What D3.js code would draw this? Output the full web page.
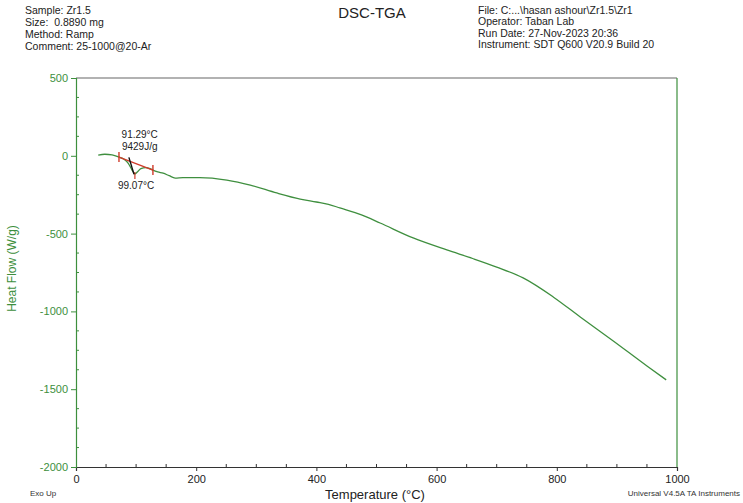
<!DOCTYPE html>
<html>
<head>
<meta charset="utf-8">
<script src="https://cdn.jsdelivr.net/npm/d3@7"></script>
<style>
  body { margin: 0; background: #fff; }
  svg { font-family: "Liberation Sans", Arial, sans-serif; }
  text { white-space: pre; }
</style>
</head>
<body>
<div id="chart"></div>
<script>
// Heat flow curve
const temps = [37, 48, 60, 71.5, 80, 87, 93, 98, 102, 108, 116, 123, 128, 136, 145, 155, 165, 178, 206,
  251, 290, 334, 373, 400, 420, 439, 475, 506, 561, 617, 660, 700, 744, 794, 839, 894, 950, 982];
const heatFlow = [5, 10, 6, -8, -22, -48, -90, -117, -104, -82, -76, -82, -92, -104, -112, -128, -143, -140, -140,
  -156, -188, -239, -278, -297, -312, -335, -380, -432, -528, -605, -660, -715, -785, -907, -1036, -1190, -1351, -1440];

const xTicks = [0, 200, 400, 600, 800, 1000];
const yTicks = [500, 0, -500, -1000, -1500, -2000];

const headerLeft = ['Sample: Zr1.5', 'Size:  0.8890 mg', 'Method: Ramp', 'Comment: 25-1000@20-Ar'];
const headerRight = ['File: C:...\\hasan ashour\\Zr1.5\\Zr1', 'Operator: Taban Lab',
  'Run Date: 27-Nov-2023 20:36', 'Instrument: SDT Q600 V20.9 Build 20'];

// peak integration marks
const baseline = [[71.5, -8], [128, -92]];
const onsetLine = [[88, -10], [96.5, -119]];
const peakLabels = [
  { t: 106, v: 112, text: '91.29°C' },
  { t: 106, v: 37, text: '9429J/g' },
  { t: 100, v: -213, text: '99.07°C' },
];

const width = 743;
const height = 503;
const margin = { top: 78, right: 66, bottom: 36, left: 76 };
const green = '#3d8f3d';

const svg = d3.select('#chart').append('svg')
  .attr('width', width)
  .attr('height', height);

const x = d3.scaleLinear().domain([0, 1000]).range([margin.left, width - margin.right]);
const y = d3.scaleLinear().domain([-2000, 500]).range([height - margin.bottom, margin.top]);

// header text
svg.append('g').selectAll('text')
  .data(headerLeft)
  .enter().append('text')
  .attr('x', 25)
  .attr('y', (d, i) => 14 + i * 12)
  .attr('font-size', 10.5)
  .attr('fill', '#222')
  .text(d => d);

svg.append('g').selectAll('text')
  .data(headerRight)
  .enter().append('text')
  .attr('x', 478)
  .attr('y', (d, i) => 14 + i * 11.3)
  .attr('font-size', 10.5)
  .attr('fill', '#222')
  .text(d => d);

svg.append('text')
  .attr('x', 372)
  .attr('y', 18)
  .attr('text-anchor', 'middle')
  .attr('font-size', 15)
  .attr('fill', '#222')
  .text('DSC-TGA');

// frame: top border grey, bottom black
svg.append('line')
  .attr('x1', x(0)).attr('x2', x(1000))
  .attr('y1', y(500)).attr('y2', y(500))
  .attr('stroke', '#666').attr('stroke-width', 1.2);

// x axis
const xAxis = d3.axisBottom(x).tickValues(xTicks).tickSize(4).tickFormat(d => String(d));
const gx = svg.append('g')
  .attr('transform', `translate(0, ${y(-2000)})`)
  .call(xAxis);
gx.select('.domain').attr('stroke', '#333').attr('stroke-width', 1.2);
gx.selectAll('.tick line').attr('stroke', '#333');
gx.selectAll('.tick text').attr('font-size', 11).attr('fill', '#222').attr('dy', '0.8em');
gx.append('g').selectAll('line')
  .data(d3.range(50, 1000, 50).filter(d => d % 200 !== 0))
  .enter().append('line')
  .attr('x1', d => x(d)).attr('x2', d => x(d))
  .attr('y1', 0).attr('y2', -3)
  .attr('stroke', '#333');

// y axis (left)
const yAxis = d3.axisLeft(y).tickValues(yTicks).tickSize(5).tickFormat(d => String(d));
const gy = svg.append('g')
  .attr('transform', `translate(${x(0)}, 0)`)
  .call(yAxis);
gy.select('.domain').attr('stroke', green).attr('stroke-width', 1.2);
gy.selectAll('.tick line').attr('stroke', green);
gy.selectAll('.tick text').attr('font-size', 11).attr('fill', green);
gy.append('g').selectAll('line')
  .data(d3.range(-2000, 500, 125).filter(d => d % 500 !== 0))
  .enter().append('line')
  .attr('x1', 0).attr('x2', 3)
  .attr('y1', d => y(d)).attr('y2', d => y(d))
  .attr('stroke', green);

// right axis line
svg.append('line')
  .attr('x1', x(1000)).attr('x2', x(1000))
  .attr('y1', y(500)).attr('y2', y(-2000))
  .attr('stroke', green).attr('stroke-width', 1.2);

// axis titles
svg.append('text')
  .attr('transform', `translate(16, ${(y(500) + y(-2000)) / 2 - 4}) rotate(-90)`)
  .attr('text-anchor', 'middle')
  .attr('font-size', 12)
  .attr('fill', green)
  .text('Heat Flow (W/g)');

svg.append('text')
  .attr('x', 375)
  .attr('y', 499)
  .attr('text-anchor', 'middle')
  .attr('font-size', 13)
  .attr('fill', '#222')
  .text('Temperature (°C)');

svg.append('text')
  .attr('x', 30)
  .attr('y', 496)
  .attr('font-size', 8)
  .attr('fill', '#333')
  .text('Exo Up');

svg.append('text')
  .attr('x', 740)
  .attr('y', 496)
  .attr('text-anchor', 'end')
  .attr('font-size', 8)
  .attr('fill', '#333')
  .text('Universal V4.5A TA Instruments');

// curve
const data = temps.map((t, i) => ({ t, v: heatFlow[i] }));
const line = d3.line()
  .curve(d3.curveMonotoneX)
  .x(d => x(d.t))
  .y(d => y(d.v));

svg.append('path')
  .datum(data)
  .attr('fill', 'none')
  .attr('stroke', '#3f8f3f')
  .attr('stroke-width', 1.3)
  .attr('d', line);

// peak integration
const seg = d3.line().x(d => x(d[0])).y(d => y(d[1]));
svg.append('path')
  .attr('d', seg(baseline))
  .attr('stroke', '#d03a2a').attr('stroke-width', 1.4).attr('fill', 'none');
svg.append('g').selectAll('line')
  .data(baseline)
  .enter().append('line')
  .attr('x1', d => x(d[0])).attr('x2', d => x(d[0]))
  .attr('y1', d => y(d[1]) - 5).attr('y2', d => y(d[1]) + 5)
  .attr('stroke', '#d03a2a').attr('stroke-width', 1.4);
svg.append('line')
  .attr('x1', x(98)).attr('x2', x(98))
  .attr('y1', y(-117) - 2).attr('y2', y(-117) + 5)
  .attr('stroke', '#d03a2a').attr('stroke-width', 1.2);
svg.append('path')
  .attr('d', seg(onsetLine))
  .attr('stroke', '#111').attr('stroke-width', 1.4).attr('fill', 'none');

svg.append('g').selectAll('text')
  .data(peakLabels)
  .enter().append('text')
  .attr('x', d => x(d.t))
  .attr('y', d => y(d.v))
  .attr('text-anchor', 'middle')
  .attr('font-size', 10)
  .attr('fill', '#222')
  .text(d => d.text);
</script>
</body>
</html>
